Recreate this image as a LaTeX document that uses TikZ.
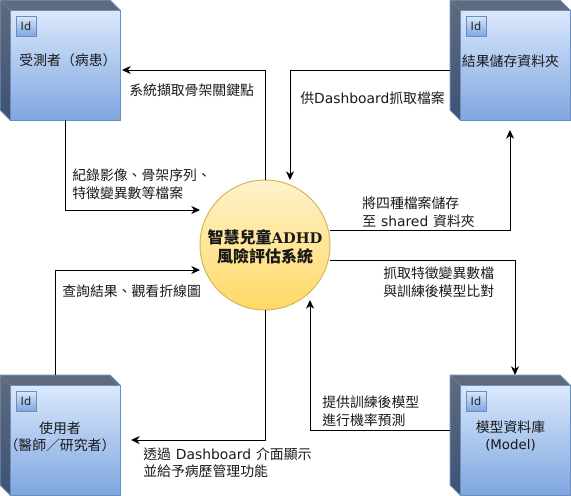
\documentclass[tikz,border=0pt]{standalone}
\usepackage{fontspec}
\setmainfont{Noto Sans CJK TC}
\newfontfamily\lat{DejaVu Sans}
\newfontfamily\latb{DejaVu Serif}[BoldFont={DejaVu Serif Bold}]
\usetikzlibrary{arrows.meta,positioning}
\definecolor{bedge}{HTML}{6C8EBF}
\definecolor{ftop}{HTML}{DAE8FC}
\definecolor{fbot}{HTML}{7EA6E0}
\definecolor{dtop}{HTML}{5F6B7C}
\definecolor{dlefta}{HTML}{5F6B7C}
\definecolor{dleftb}{HTML}{3E5275}
\definecolor{ctop}{HTML}{FFF2CC}
\definecolor{cbot}{HTML}{FFD966}
\definecolor{cedge}{HTML}{D6B656}
\newcommand{\gapx}{\hspace{3.7pt}}
\tikzset{
 x=0.75pt,y=-0.75pt,
 conn/.style={draw=black,line width=0.75pt,-{Stealth[length=6.5pt,width=6pt,inset=2pt]}},
 lbl/.style={inner sep=0pt,align=left,anchor=north west,font=\fontsize{10.4pt}{13.5pt}\selectfont,text=black!90},
 boxtxt/.style={inner sep=0pt,align=center,font=\fontsize{10.4pt}{12.9pt}\selectfont,text=black!90},
 idbox/.style={draw=bedge,line width=.75pt,top color=ftop,bottom color=fbot,minimum size=15pt,inner sep=0pt,font=\fontsize{8.5pt}{8.5pt}\selectfont\lat,text=black!85},
}
\newcommand{\nodebox}[3]{%
 \fill[dtop] (#2,#3) -- (#2+110,#3) -- (#2+120,#3+10) -- (#2+10,#3+10) -- cycle;
 \shade[top color=dlefta,bottom color=dleftb] (#2,#3) -- (#2+10,#3+10) -- (#2+10,#3+120) -- (#2,#3+110) -- cycle;
 \draw[bedge,line width=.75pt,line join=round] (#2,#3) -- (#2+110,#3) -- (#2+120,#3+10) -- (#2+120,#3+120) -- (#2+10,#3+120) -- (#2,#3+110) -- cycle;
 \node[draw=bedge,line width=.75pt,minimum width=82.5pt,minimum height=82.5pt,inner sep=0pt,top color=ftop,bottom color=fbot,anchor=north west] (#1) at (#2+10,#3+10) {};
 \node[idbox,anchor=north west] (#1id) at (#2+15.5,#3+15.5) {Id};
}
\begin{document}
\begin{tikzpicture}
\useasboundingbox (0,0) rectangle (571,496);
\nodebox{pat}{0}{0}
\nodebox{res}{450}{0}
\nodebox{usr}{0}{375}
\nodebox{mdl}{450}{375}
\node[boxtxt] (tpat) at (68,60.5) {受測者（病患）};
\node[boxtxt] (tres) at (510.5,61) {結果儲存資料夾};
\node[boxtxt] (tusr) at (60,437) {使用者\\（醫師／研究者）};
\node[boxtxt] (tmdl) at (510.5,436) {模型資料庫\\{\lat\fontsize{10pt}{12.9pt}\selectfont (Model)}};
\node[circle,minimum size=97.5pt,inner sep=0pt,draw=cedge,line width=.75pt,top color=ctop,bottom color=cbot] (sys) at (265,245) {};
\node[inner sep=0pt,align=center,font=\fontsize{12pt}{14.4pt}\selectfont\bfseries,text=black!90] (tsys) at (265,246.5) {智慧兒童{\latb\bfseries\fontsize{11pt}{14.4pt}\selectfont ADHD}\\風險評估系統};
\coordinate (a1) at (265,180); \coordinate (a2) at (265,70); \coordinate (a3) at (122,70);
\coordinate (b1) at (65,120); \coordinate (b2) at (65,210); \coordinate (b3) at (200,210);
\coordinate (c1) at (450,70); \coordinate (c2) at (290,70); \coordinate (c3) at (290,180);
\coordinate (d1) at (330,230); \coordinate (d2) at (510,230); \coordinate (d3) at (510,130);
\coordinate (e1) at (330,260); \coordinate (e2) at (515,260); \coordinate (e3) at (515,375);
\coordinate (f1) at (450,430); \coordinate (f2) at (310,430); \coordinate (f3) at (310,300);
\coordinate (g1) at (265,310); \coordinate (g2) at (265,440); \coordinate (g3) at (131,440);
\coordinate (h1) at (55,375); \coordinate (h2) at (55,270); \coordinate (h3) at (200,270);
\draw[conn] (a1) -- (a2) -- (a3);
\draw[conn] (b1) -- (b2) -- (b3);
\draw[conn] (c1) -- (c2) -- (c3);
\draw[conn] (d1) -- (d2) -- (d3);
\draw[conn] (e1) -- (e2) -- (e3);
\draw[conn] (f1) -- (f2) -- (f3);
\draw[conn] (g1) -- (g2) -- (g3);
\draw[conn] (h1) -- (h2) -- (h3);
\node[lbl] (l1) at (129,84) {系統擷取骨架關鍵點};
\node[lbl] (l2) at (72,169) {紀錄影像、骨架序列、\\特徵變異數等檔案};
\node[lbl] (l3) at (300,92) {供{\lat Dashboard}抓取檔案};
\node[lbl] (l4) at (362,197) {將四種檔案儲存\\至\gapx{\lat shared}\gapx 資料夾};
\node[lbl] (l5) at (383,267) {抓取特徵變異數檔\\與訓練後模型比對};
\node[lbl] (l6) at (62,284) {查詢結果、觀看折線圖};
\node[lbl] (l7) at (322,396) {提供訓練後模型\\進行機率預測};
\node[lbl,font=\fontsize{10.4pt}{12.9pt}\selectfont] (l8) at (143,447) {透過\gapx{\lat Dashboard}\gapx 介面顯示\\並給予病歷管理功能};
\end{tikzpicture}
\end{document}
